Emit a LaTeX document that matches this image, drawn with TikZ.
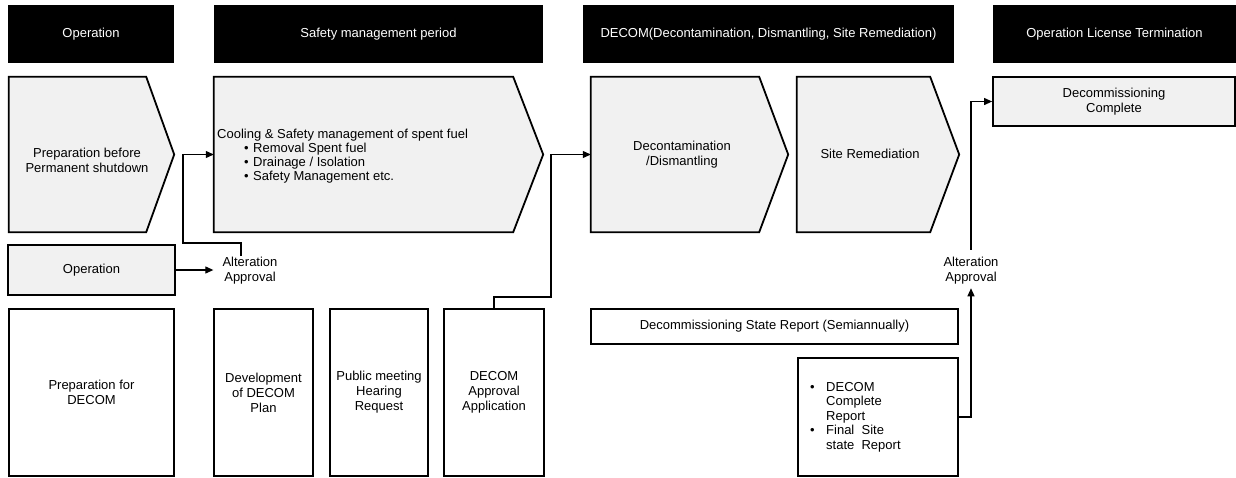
\documentclass[tikz,border=0pt]{standalone}
\usepackage{fontspec}
\setmainfont{Liberation Sans}
\usetikzlibrary{arrows.meta,calc}
\definecolor{boxgray}{HTML}{F1F1F1}
\begin{document}
\begin{tikzpicture}[x=1pt,y=-1pt,
  font=\fontsize{13}{15}\selectfont,
  hdr/.style={fill=black,text=white,inner sep=0pt,minimum height=58pt},
  body/.style={inner sep=0pt,minimum height=155pt},
  pent/.style={draw=black,line width=1.8pt,fill=boxgray,line join=miter},
  gbox/.style={draw=black,line width=1.8pt,fill=boxgray,inner sep=0pt,align=center},
  wbox/.style={draw=black,line width=1.8pt,fill=white,inner sep=0pt,align=center},
  lbl/.style={inner sep=1pt,align=center},
  conn/.style={line width=1.1pt},
  arr/.style={conn,-{Triangle[length=8pt,width=7pt]}}]
\useasboundingbox (0,0) rectangle (1236,477);

% headers
\node[hdr,minimum width=166pt] (h1) at (91,34) {Operation};
\node[hdr,minimum width=329pt] (h2) at (378.5,34) {Safety management period};
\node[hdr,minimum width=371pt] (h3) at (768.5,34) {DECOM(Decontamination, Dismantling, Site Remediation)};
\node[hdr,minimum width=243pt] (h4) at (1114.5,34) {Operation License Termination};

% pentagon bodies
\node[body,minimum width=137pt] (prep) at (77.5,154.5) {};
\node[body,minimum width=299pt] (cool) at (363.5,154.5) {};
\node[body,minimum width=168pt] (decon) at (675,154.5) {};
\node[body,minimum width=133pt] (site) at (863.5,154.5) {};
\draw[pent] (prep.north west) -- (prep.north east) -- ($(prep.east)+(28,0)$) -- (prep.south east) -- (prep.south west) -- cycle;
\draw[pent] (cool.north west) -- (cool.north east) -- ($(cool.east)+(30,0)$) -- (cool.south east) -- (cool.south west) -- cycle;
\draw[pent] (decon.north west) -- (decon.north east) -- ($(decon.east)+(29,0)$) -- (decon.south east) -- (decon.south west) -- cycle;
\draw[pent] (site.north west) -- (site.north east) -- ($(site.east)+(29,0)$) -- (site.south east) -- (site.south west) -- cycle;

\node[lbl] (prept) at (87,160) {Preparation before\\Permanent shutdown};
\node[lbl,anchor=west,align=left,font=\fontsize{13}{14.2}\selectfont] (coolt) at (216,156)
  {Cooling \& Safety management of spent fuel\\
   \hspace*{27pt}\makebox[9pt][l]{\textbullet}Removal Spent fuel\\
   \hspace*{27pt}\makebox[9pt][l]{\textbullet}Drainage / Isolation\\
   \hspace*{27pt}\makebox[9pt][l]{\textbullet}Safety Management etc.};
\node[lbl] (dect) at (682,155) {Decontamination\\/Dismantling};
\node[lbl] (sitet) at (870,154) {Site Remediation};

% rectangles
\node[gbox,minimum width=242pt,minimum height=49pt] (done) at (1114,101.5) {Decommissioning\\Complete};
\node[gbox,minimum width=167pt,minimum height=50pt] (oper) at (91.5,270) {Operation};
\node[wbox,minimum width=165pt,minimum height=167pt] (prepd) at (91.5,392.5) {Preparation for\\DECOM};
\node[wbox,minimum width=99pt,minimum height=167pt] (dev) at (263.5,392.5) {Development\\of DECOM\\Plan};
\node[wbox,minimum width=98pt,minimum height=167pt] (pub) at (379,392.5) {Public meeting\\Hearing\\Request};
\node[wbox,minimum width=100pt,minimum height=167pt] (app) at (494,392.5) {DECOM\\Approval\\Application};
\node[wbox,minimum width=367pt,minimum height=35pt] (state) at (774.5,326.5) {Decommissioning State Report (Semiannually)};
\node[wbox,minimum width=160pt,minimum height=118pt] (final) at (878,417) {};
\node[lbl,anchor=west,align=left,font=\fontsize{13}{14.5}\selectfont] (finalt) at (809,417)
  {\makebox[16pt][l]{\textbullet}DECOM\\
   \hspace*{16pt}Complete\\
   \hspace*{16pt}Report\\
   \makebox[16pt][l]{\textbullet}Final~ Site\\
   \hspace*{16pt}state~ Report};

% labels
\node[lbl] (alt1) at (250,271) {Alteration\\Approval};
\node[lbl] (alt2) at (971,270.5) {Alteration\\Approval};

% connectors
\coordinate (j1) at (183,243);
\coordinate (j2) at (551,297);
\draw[arr,shorten >=8pt] (oper.east) -- (oper.east -| alt1.west);
\draw[arr] ([xshift=-9pt]alt1.north) |- (j1) |- (cool.west);
\draw[arr] (app.north) |- (j2) |- (decon.west);
\draw[arr,shorten >=3pt] (final.east) -| (alt2.south);
\draw[arr] ([yshift=6pt]alt2.north) |- (done.west);
\end{tikzpicture}
\end{document}
